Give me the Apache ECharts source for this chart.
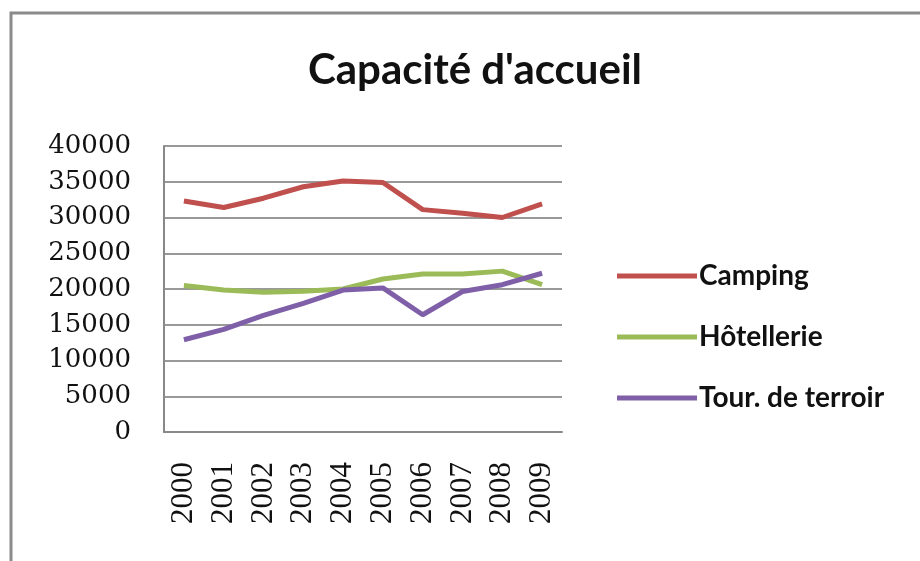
<!DOCTYPE html>
<head>
    <meta charset="utf-8" />
    <title>Capacité d'accueil</title>
    <style>
        body { margin: 0; background: #fff; }
    </style>
</head>
<body>
<div style="width: 920px; height: 561px;" id="container"></div>

<script src="https://cdn.jsdelivr.net/npm/echarts@6/dist/echarts.min.js"></script>
<script type="text/javascript">

    var years = ['2000', '2001', '2002', '2003', '2004', '2005', '2006', '2007', '2008', '2009'];
    var camping = [32300, 31400, 32700, 34300, 35100, 34900, 31100, 30600, 30000, 31900];
    var hotellerie = [20500, 19850, 19550, 19700, 20000, 21400, 22100, 22100, 22500, 20600];
    var terroir = [12900, 14350, 16300, 18000, 19850, 20150, 16400, 19650, 20600, 22200];

    var chart = echarts.init(document.getElementById('container'));

    function line(name, data, color) {
        return {
            name: name,
            type: 'line',
            data: data,
            symbol: 'none',
            lineStyle: { color: color, width: 5 },
            itemStyle: { color: color }
        };
    }

    chart.setOption({
        animation: false,
        title: {
            text: "Capacité d'accueil",
            left: 303,
            top: 44,
            textStyle: { fontFamily: 'Lato', fontSize: 42, fontWeight: 'bold', color: '#111' }
        },
        graphic: [{
            type: 'rect',
            shape: { x: 11, y: 13, width: 1000, height: 1000 },
            style: { fill: null, stroke: '#8a8a8a', lineWidth: 3 }
        }],
        legend: {
            orient: 'vertical',
            left: 612,
            top: 256,
            icon: 'rect',
            itemWidth: 80,
            itemHeight: 5,
            itemGap: 31,
            data: ['Camping', 'Hôtellerie', 'Tour. de terroir'],
            textStyle: { fontFamily: 'Lato', fontSize: 28, fontWeight: 'bold', lineHeight: 30, color: '#111', padding: [0, 0, 0, -3] }
        },
        grid: { left: 164, right: 358, top: 146, bottom: 129 },
        xAxis: {
            type: 'category',
            data: years,
            boundaryGap: true,
            axisLine: { lineStyle: { color: '#888', width: 2 } },
            axisTick: { show: false },
            axisLabel: {
                rotate: 90,
                interval: 0,
                margin: 30,
                fontFamily: 'Liberation Serif',
                fontSize: 31,
                color: '#111'
            }
        },
        yAxis: {
            type: 'value',
            min: 0,
            max: 40000,
            interval: 5000,
            axisLine: { show: true, lineStyle: { color: '#888', width: 2 } },
            axisTick: { show: false },
            splitLine: { lineStyle: { color: '#777', width: 1.5 } },
            axisLabel: {
                margin: 33,
                fontFamily: 'DejaVu Serif',
                fontSize: 26,
                color: '#111',
                formatter: function (v) { return String(v); }
            }
        },
        series: [
            line('Camping', camping, '#c0504d'),
            line('Hôtellerie', hotellerie, '#9bbb59'),
            line('Tour. de terroir', terroir, '#7f60a8')
        ]
    });

</script>
</body>
